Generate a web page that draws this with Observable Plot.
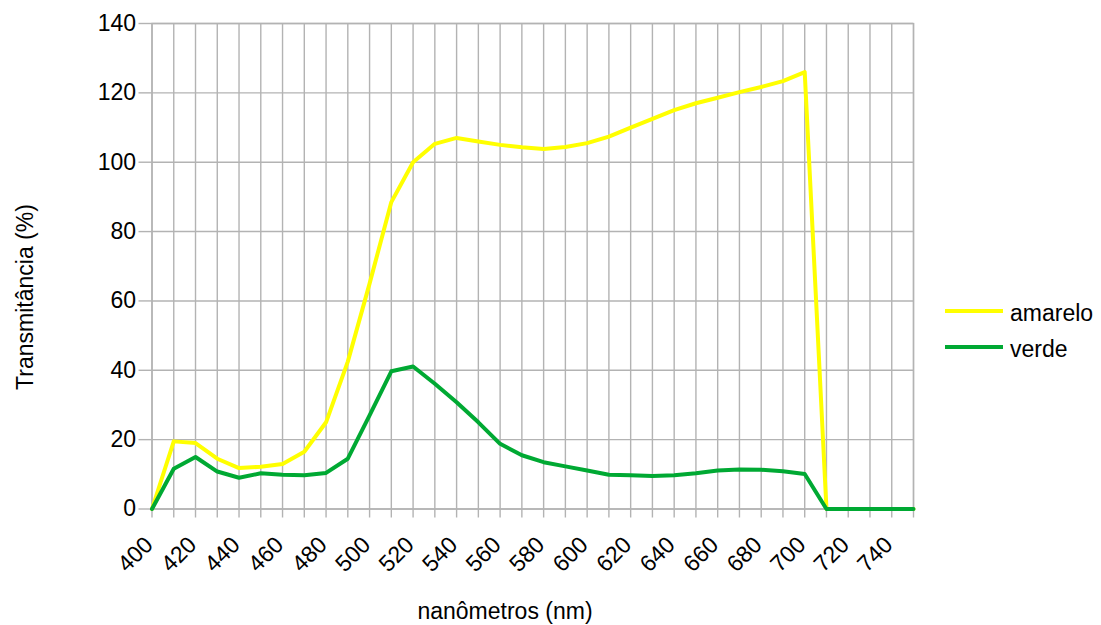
<!DOCTYPE html>
<html>
<head>
<meta charset="utf-8">
<script src="https://cdn.jsdelivr.net/npm/d3@7"></script>
<script src="https://cdn.jsdelivr.net/npm/@observablehq/plot@0.6"></script>
<style>
  html, body { margin: 0; padding: 0; background: #fff; }
  body { font-family: "Liberation Sans", Arial, sans-serif; color: #000; }
  #wrap { position: relative; width: 1101px; height: 625px; overflow: hidden; }
  .title { position: absolute; font-size: 23px; white-space: nowrap; transform: translate(-50%, -50%); line-height: 1.15; }
  .ytitle { transform: translate(-50%, -50%) rotate(-90deg); }
  .legend { position: absolute; left: 945px; top: 293px; font-size: 23px; }
  .row { display: flex; align-items: center; height: 36px; }
  .swatch { width: 58px; height: 4px; margin-right: 7px; }
  .lab { padding-top: 5px; line-height: 1.15; }
</style>
</head>
<body>
<div id="wrap"></div>
<script>
// Wavelengths (nm) — one point every 10 nm
const wavelengths = [400, 410, 420, 430, 440, 450, 460, 470, 480, 490,
                     500, 510, 520, 530, 540, 550, 560, 570, 580, 590,
                     600, 610, 620, 630, 640, 650, 660, 670, 680, 690,
                     700, 710, 720, 730, 740, 750];

// Transmittance (%) — series "amarelo"
const amarelo = [0, 19.5, 19, 14.5, 11.8, 12.2, 13, 16.5, 25, 42.5,
                 65, 88.5, 100, 105.3, 107, 106, 105, 104.3, 103.8, 104.4,
                 105.5, 107.4, 110, 112.5, 115, 117, 118.6, 120.2, 121.7, 123.4,
                 126, 0, 0, 0, 0, 0];

// Transmittance (%) — series "verde"
const verde = [0, 11.6, 15, 10.8, 9, 10.3, 9.9, 9.7, 10.4, 14.5,
               27, 39.7, 41.1, 36.1, 30.8, 25, 18.8, 15.5, 13.5, 12.3,
               11.1, 9.9, 9.7, 9.5, 9.7, 10.3, 11.1, 11.4, 11.3, 10.9,
               10.1, 0, 0, 0, 0, 0];

const seriesNames = ["amarelo", "verde"];
const seriesColors = ["#ffff00", "#00a933"];

// Tick labels
const xTickLabels = [400, 420, 440, 460, 480, 500, 520, 540, 560, 580,
                     600, 620, 640, 660, 680, 700, 720, 740];
const yTicks = [0, 20, 40, 60, 80, 100, 120, 140];

const xTitle = "nanômetros (nm)";
const yTitle = "Transmitância (%)";

const data = [];
wavelengths.forEach((w, i) => {
  data.push({nm: w, v: amarelo[i], s: seriesNames[0]});
  data.push({nm: w, v: verde[i], s: seriesNames[1]});
});

const gridColor = "#b3b3b3";

const chart = Plot.plot({
  width: 1101,
  height: 625,
  marginLeft: 151.5,
  marginRight: 188,
  marginTop: 23,
  marginBottom: 116.5,
  x: {type: "linear", domain: [400, 750]},
  y: {type: "linear", domain: [0, 140]},
  color: {domain: seriesNames, range: seriesColors},
  style: {fontFamily: "Liberation Sans, Arial, sans-serif", fontSize: "23px", color: "#000", background: "#fff", overflow: "visible"},
  marks: [
    Plot.gridX(wavelengths, {stroke: gridColor, strokeOpacity: 1, strokeWidth: 1.4}),
    Plot.gridY(yTicks, {stroke: gridColor, strokeOpacity: 1, strokeWidth: 1.4}),
    Plot.frame({stroke: gridColor, strokeWidth: 1.4}),
    Plot.axisY(yTicks, {tickSize: 13, tickPadding: 3, stroke: gridColor, strokeWidth: 1.4, label: null, fill: "#000"}),
    Plot.axisX(wavelengths, {tickSize: 9, stroke: gridColor, strokeWidth: 1.4, tickFormat: () => "", label: null}),
    Plot.axisX(xTickLabels, {tickSize: 0, tickPadding: 32, tickRotate: -45, dx: -3, label: null, fill: "#000"}),
    Plot.line(data, {x: "nm", y: "v", stroke: "s", strokeWidth: 4, strokeLinejoin: "round"})
  ]
});

const wrap = document.getElementById("wrap");
wrap.appendChild(chart);

// Axis titles
const xt = document.createElement("div");
xt.className = "title";
xt.style.left = "505px";
xt.style.top = "611px";
xt.textContent = xTitle;
wrap.appendChild(xt);

const yt = document.createElement("div");
yt.className = "title ytitle";
yt.style.left = "25px";
yt.style.top = "297px";
yt.textContent = yTitle;
wrap.appendChild(yt);

// Legend
const lg = document.createElement("div");
lg.className = "legend";
seriesNames.forEach((name, i) => {
  const row = document.createElement("div");
  row.className = "row";
  const sw = document.createElement("div");
  sw.className = "swatch";
  sw.style.background = seriesColors[i];
  const lab = document.createElement("div");
  lab.className = "lab";
  lab.textContent = name;
  row.appendChild(sw);
  row.appendChild(lab);
  lg.appendChild(row);
});
wrap.appendChild(lg);
</script>
</body>
</html>
